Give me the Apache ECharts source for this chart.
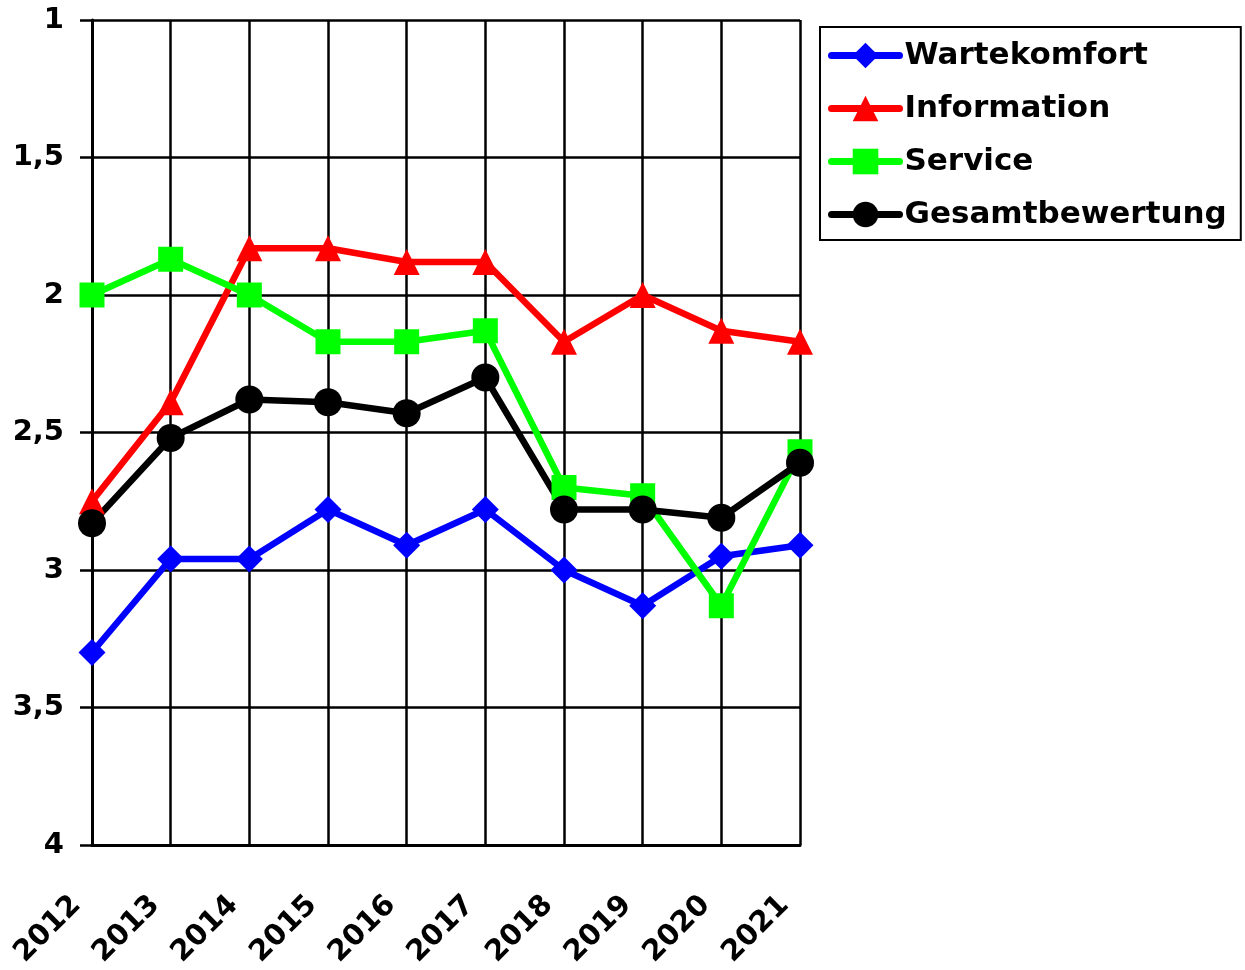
<!DOCTYPE html>
<html>
<head>
<meta charset="utf-8">
<script src="https://cdn.jsdelivr.net/npm/echarts@6/dist/echarts.min.js"></script>
<style>
  html, body { margin: 0; padding: 0; background: #fff; }
</style>
</head>
<body>
<div id="main" style="width: 1245px;height:970px;"></div>
<script>
// Jahre
const years = ["2012", "2013", "2014", "2015", "2016", "2017", "2018", "2019", "2020", "2021"];
// Noten (1 = beste)
const wartekomfort = [3.30, 2.96, 2.96, 2.78, 2.91, 2.78, 3.00, 3.13, 2.95, 2.91];
const information = [2.75, 2.39, 1.83, 1.83, 1.88, 1.88, 2.17, 2.00, 2.13, 2.17];
const service = [2.00, 1.87, 2.00, 2.17, 2.17, 2.13, 2.70, 2.73, 3.13, 2.57];
const gesamt = [2.83, 2.52, 2.38, 2.39, 2.43, 2.30, 2.78, 2.78, 2.81, 2.61];
const yTicks = [1, 1.5, 2, 2.5, 3, 3.5, 4];

const fontFam = "DejaVu Sans";
var myChart = echarts.init(document.getElementById("main"));

function mkSeries(name, data, color, symbol, size) {
  return {
    name: name,
    type: "line",
    data: data,
    symbol: symbol,
    symbolSize: size,
    lineStyle: { color: color, width: 6.5 },
    itemStyle: { color: color },
  };
}

var option = {
  animation: false,
  backgroundColor: "#fff",
  grid: { left: 92, right: 445, top: 20, bottom: 125, outerBoundsMode: "none" },
  // Legende
  legend: {
    orient: "vertical",
    left: 820,
    top: 27,
    padding: [13, 14, 10, 8],
    borderColor: "#000",
    borderWidth: 2,
    itemWidth: 68,
    itemHeight: 32,
    itemGap: 22,
    itemTextGap: 9,
    lineStyle: { width: 7, cap: "round" },
    textStyle: {
      color: "#000",
      fontFamily: fontFam,
      fontWeight: "bold",
      fontSize: 31,
    },
    data: ["Wartekomfort", "Information", "Service", "Gesamtbewertung"],
  },
  xAxis: {
    type: "category",
    data: years,
    boundaryGap: false,
    axisLine: { lineStyle: { color: "#000", width: 3 } },
    axisTick: { show: false },
    splitLine: { show: true, lineStyle: { color: "#000", width: 2.5 } },
    axisLabel: {
      rotate: 45,
      margin: 40,
      padding: [0, 22, 0, 0],
      color: "#000",
      fontFamily: fontFam,
      fontWeight: "bold",
      fontSize: 29,
    },
  },
  yAxis: {
    type: "value",
    inverse: true,
    min: yTicks[0],
    max: yTicks[yTicks.length - 1],
    interval: 0.5,
    axisLine: { show: true, lineStyle: { color: "#000", width: 3 } },
    axisTick: { show: true, length: 12, lineStyle: { color: "#000", width: 2.5 } },
    splitLine: { lineStyle: { color: "#000", width: 2.5 } },
    axisLabel: {
      margin: 28,
      padding: [6, 0, 0, 0],
      color: "#000",
      fontFamily: fontFam,
      fontWeight: "bold",
      fontSize: 29,
      formatter: (v) => String(v).replace(".", ","),
    },
  },
  series: [
    mkSeries("Wartekomfort", wartekomfort, "#0000FF", "diamond", 27),
    mkSeries("Information", information, "#FF0000", "triangle", 26),
    mkSeries("Service", service, "#00FF00", "rect", 25),
    mkSeries("Gesamtbewertung", gesamt, "#000000", "circle", 28),
  ],
};
option && myChart.setOption(option);
</script>
</body>
</html>
